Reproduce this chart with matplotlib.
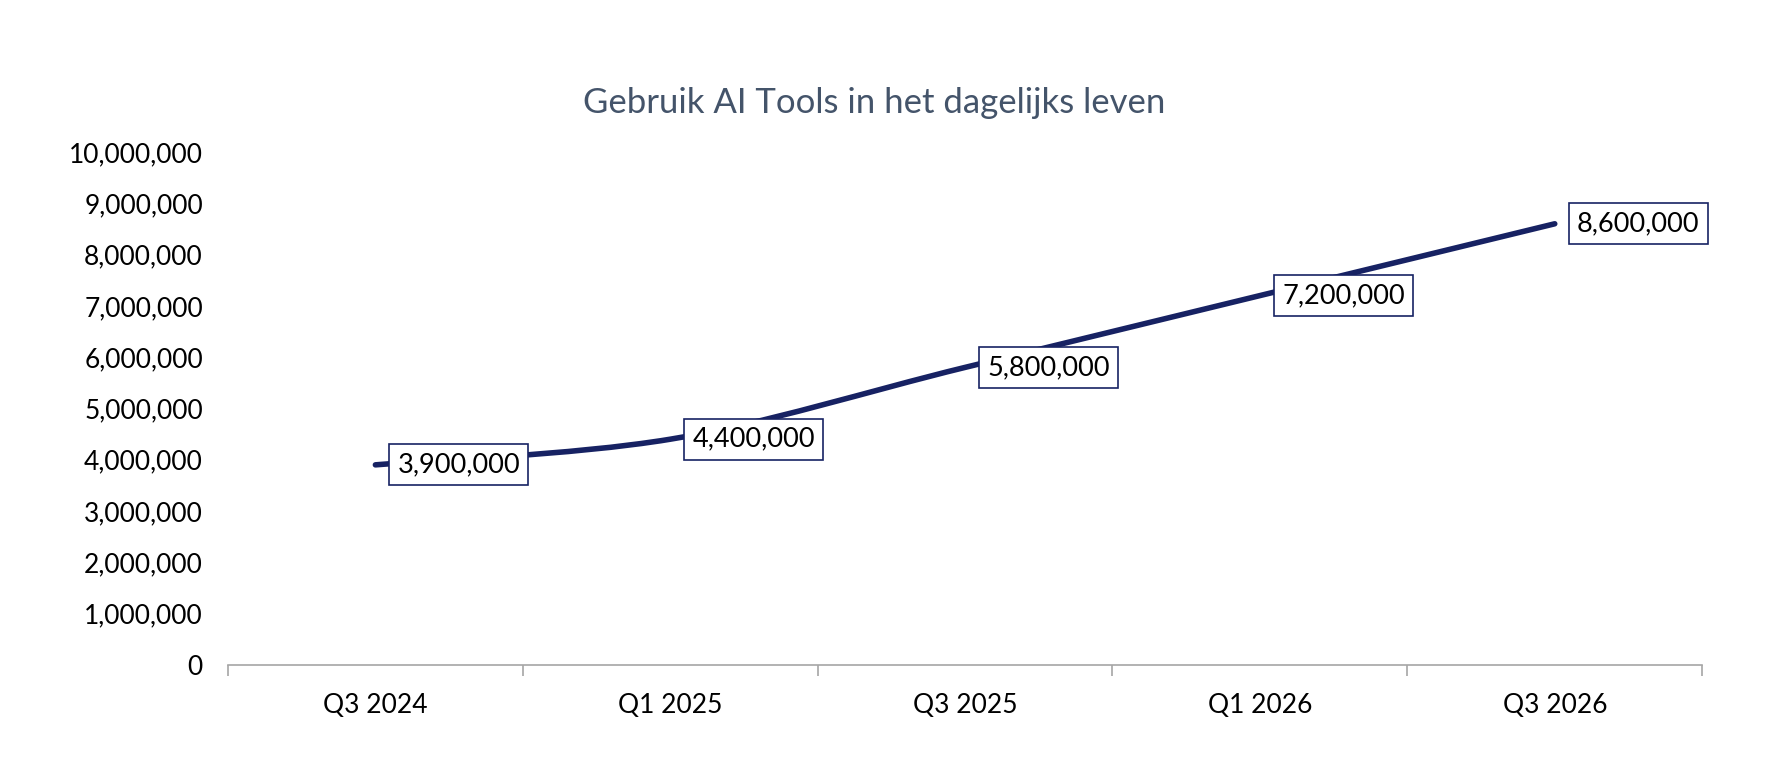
import matplotlib.pyplot as plt
from matplotlib.path import Path
from matplotlib.patches import PathPatch
from matplotlib.ticker import FuncFormatter, FixedLocator

# data
kwartalen = ['Q3 2024', 'Q1 2025', 'Q3 2025', 'Q1 2026', 'Q3 2026']
gebruikers = [3900000, 4400000, 5800000, 7200000, 8600000]

titel = 'Gebruik AI Tools in het dagelijks leven'
lijn_kleur = '#172263'
titel_kleur = '#44546A'
as_kleur = '#A6A6A6'

plt.rcParams['font.family'] = ['Lato', 'DejaVu Sans']

fig = plt.figure(figsize=(17.88, 7.66), dpi=100)
ax = fig.add_axes([0.1275, 0.132, 0.8245, 0.6696])

x = list(range(len(kwartalen)))
y = gebruikers

# gladde lijn zoals in Excel (Catmull-Rom naar Bezier)
verts = [(x[0], y[0])]
codes = [Path.MOVETO]
n = len(x)
for i in range(n - 1):
    p0 = (x[i - 1], y[i - 1]) if i > 0 else (x[i], y[i])
    p1 = (x[i], y[i])
    p2 = (x[i + 1], y[i + 1])
    p3 = (x[i + 2], y[i + 2]) if i + 2 < n else (x[i + 1], y[i + 1])
    c1 = (p1[0] + (p2[0] - p0[0]) / 6, p1[1] + (p2[1] - p0[1]) / 6)
    c2 = (p2[0] - (p3[0] - p1[0]) / 6, p2[1] - (p3[1] - p1[1]) / 6)
    verts += [c1, c2, p2]
    codes += [Path.CURVE4, Path.CURVE4, Path.CURVE4]
lijn = PathPatch(Path(verts, codes), facecolor='none', edgecolor=lijn_kleur,
                 lw=4, capstyle='round', joinstyle='round', zorder=3)
ax.add_patch(lijn)

# data labels rechts van de punten
for xi, yi in zip(x, y):
    ax.annotate(f'{yi:,}', (xi, yi), xytext=(16, 0), textcoords='offset points',
                ha='left', va='center', fontsize=19.5, color='black', zorder=5,
                bbox=dict(boxstyle='square,pad=0.3', facecolor='white',
                          edgecolor=lijn_kleur, linewidth=1.2))

ax.set_xlim(-0.5, len(kwartalen) - 0.5)
ax.set_ylim(0, 10000000)
ax.set_xticks(x)
ax.set_xticklabels(kwartalen)
ax.xaxis.set_minor_locator(FixedLocator([i - 0.5 for i in range(len(kwartalen) + 1)]))
ax.tick_params(axis='x', which='major', length=0, pad=20, labelsize=19)
ax.tick_params(axis='x', which='minor', length=8, width=1.2, color=as_kleur)
ax.set_yticks(range(0, 10000001, 1000000))
ax.yaxis.set_major_formatter(FuncFormatter(lambda v, p: f'{int(v):,}'))
ax.tick_params(axis='y', length=0, pad=18, labelsize=19)

for kant in ['top', 'right', 'left']:
    ax.spines[kant].set_visible(False)
ax.spines['bottom'].set_color(as_kleur)
ax.spines['bottom'].set_linewidth(1.2)

fig.text(0.489, 0.865, titel, ha='center', va='center', fontsize=25, color=titel_kleur)

fig.savefig('out.png', dpi=100)
